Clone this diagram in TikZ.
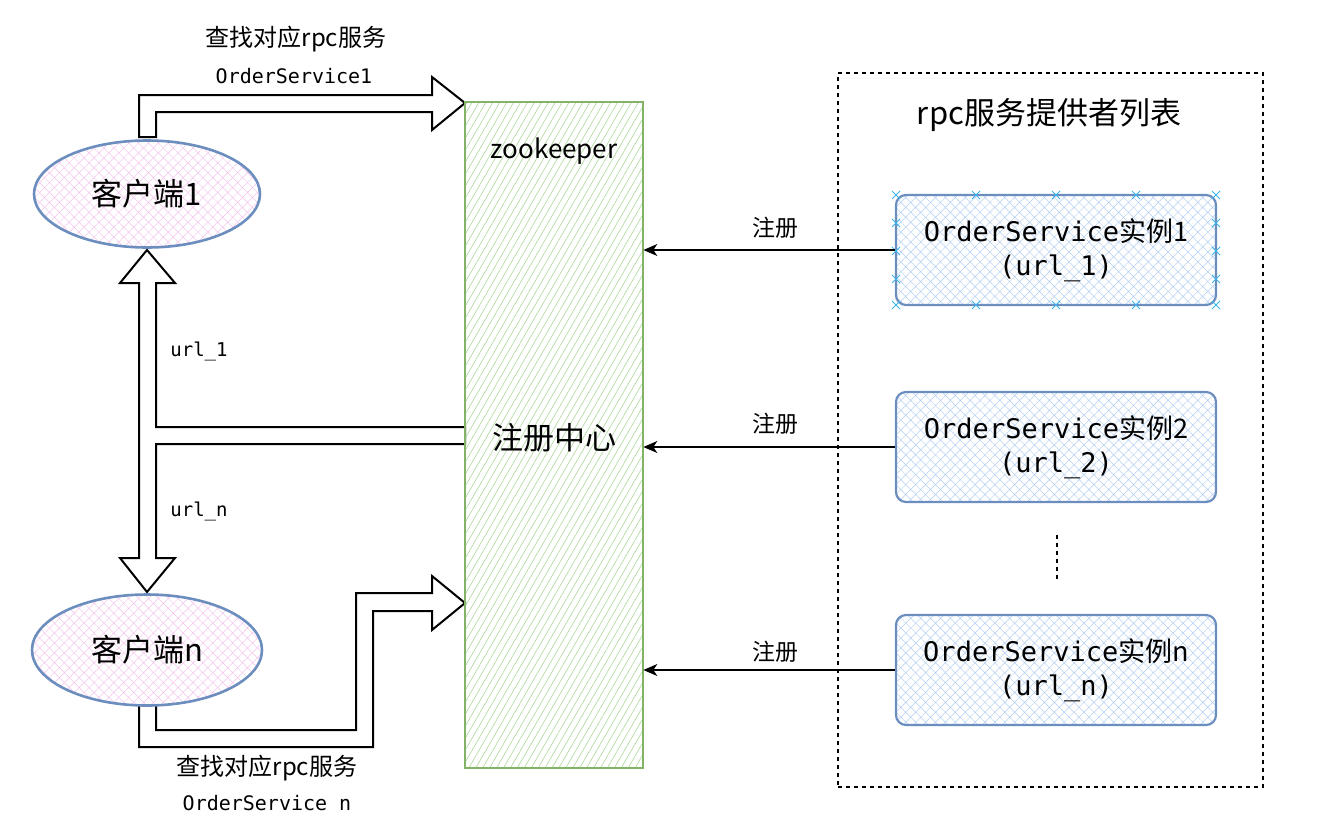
\documentclass[tikz,border=0pt]{standalone}
\usepackage{fontspec}
\setmainfont{Noto Sans CJK SC}
\setmonofont{DejaVu Sans Mono}
\usetikzlibrary{arrows.meta,patterns.meta,shapes.geometric,positioning}

\definecolor{zkgreen}{HTML}{82B366}
\definecolor{zkhatch}{HTML}{B5DBA3}
\definecolor{clblue}{HTML}{6C8EBF}
\definecolor{clpink}{HTML}{F4C4EC}
\definecolor{boxhatch}{HTML}{B2CEF3}
\definecolor{handlecol}{HTML}{3BB5EC}

\tikzset{
	client/.style={ellipse, draw=clblue, line width=2.6pt, minimum width=226pt, minimum height=107pt,
		pattern={Hatch[angle=45,distance=7pt,line width=0.5pt]}, pattern color=clpink,
		font=\fontsize{31}{35}\selectfont},
	registry/.style={rectangle, draw=zkgreen, line width=1.6pt, minimum width=178pt, minimum height=666pt,
		pattern={Lines[angle=60,distance=6pt,line width=0.7pt]}, pattern color=zkhatch},
	instance/.style={rectangle, rounded corners=10pt, draw=clblue, line width=2.2pt, minimum width=320pt,
		minimum height=110pt, align=center, pattern={Hatch[angle=45,distance=7pt,line width=0.5pt]},
		pattern color=boxhatch, font=\fontsize{27}{34}\selectfont},
	container/.style={rectangle, draw, line width=1.3pt, dash pattern=on 4pt off 4pt,
		minimum width=425pt, minimum height=714pt},
	blockarrow/.style={draw, line width=2pt, line join=miter},
	regarrow/.style={draw, line width=1.4pt, -{Stealth[length=14pt,width=12pt,inset=4pt]}},
	handlemark/.style={draw=handlecol, line width=1pt},
	lbl/.style={font=\fontsize{23}{27}\selectfont},
	biglbl/.style={font=\fontsize{31}{35}\selectfont}
}

\begin{document}
\begin{tikzpicture}[x=1pt,y=-1pt]
	\useasboundingbox (0,0) rectangle (1317,836);

	%block arrows
	\draw[blockarrow] (139,137) -- (139,95) -- (432,95) -- (432,77) -- (465,103) -- (432,130)
		-- (432,112) -- (156,112) -- (156,137) -- cycle;									%top
	\draw[blockarrow] (465,427) -- (156,427) -- (156,283) -- (175,283) -- (147,250) -- (120,283)
		-- (139,283) -- (139,558) -- (120,558) -- (147,592) -- (175,558) -- (156,558)
		-- (156,444) -- (465,444) -- cycle;												%middle
	\draw[blockarrow] (139,705) -- (139,747) -- (373,747) -- (373,611) -- (432,611) -- (432,630)
		-- (465,603) -- (432,576) -- (432,593) -- (356,593) -- (356,730) -- (156,730)
		-- (156,705) -- cycle;															%bottom

	%clients
	\node[client] (client1) at (147,194) {客户端1};
	\node[client, minimum width=230pt, minimum height=111pt] (clientn) at (147,650) {客户端n};

	%registry
	\node[registry] (zk) at (554,435) {};
	\node[font=\fontsize{26}{30}\selectfont] (zkname) at (554,151) {zookeeper};
	\node[biglbl] (zkreg) at (554,438) {注册中心};

	%providers
	\node[container] (plist) at (1050.5,430) {};
	\node[biglbl] (ptitle) at (1049,115) {rpc服务提供者列表};
	\node[instance] (inst1) at (1056,250) {\texttt{OrderService}实例1\\\texttt{(url\_1)}};
	\node[instance] (inst2) at (1056,447) {\texttt{OrderService}实例2\\\texttt{(url\_2)}};
	\node[instance] (instn) at (1056,670) {\texttt{OrderService}实例n\\\texttt{(url\_n)}};
	\draw[line width=1.3pt, dash pattern=on 4pt off 4pt] (1057,535) -- (1057,582);

	%selection handles
	\foreach \hx in {896,976,1056,1136,1216}
		\foreach \hy in {195,305}
			\draw[handlemark] (\hx,\hy) +(-4,-4) -- +(4,4) +(-4,4) -- +(4,-4);
	\foreach \hx in {896,1216}
		\foreach \hy in {223,251,279}
			\draw[handlemark] (\hx,\hy) +(-4,-4) -- +(4,4) +(-4,4) -- +(4,-4);

	%registration
	\draw[regarrow] (inst1.west) -- (zk.east |- inst1.west);
	\draw[regarrow] (inst2.west) -- (zk.east |- inst2.west);
	\draw[regarrow] (instn.west) -- (zk.east |- instn.west);
	\node[lbl] (reg1) at (775,228) {注册};
	\node[lbl] (reg2) at (775,424) {注册};
	\node[lbl] (regn) at (775,652) {注册};

	%labels
	\node[font=\fontsize{24}{28}\selectfont] (query1) at (296,39) {查找对应rpc服务};
	\node[font=\fontsize{20}{24}\selectfont] (svc1) at (294,76) {\texttt{OrderService1}};
	\node[font=\fontsize{19}{23}\selectfont] (url1) at (199,351) {\texttt{url\_1}};
	\node[font=\fontsize{19}{23}\selectfont] (urln) at (199,511) {\texttt{url\_n}};
	\node[font=\fontsize{24}{28}\selectfont] (queryn) at (267,768) {查找对应rpc服务};
	\node[font=\fontsize{20}{24}\selectfont] (svcn) at (267,803) {\texttt{OrderService n}};
\end{tikzpicture}
\end{document}
